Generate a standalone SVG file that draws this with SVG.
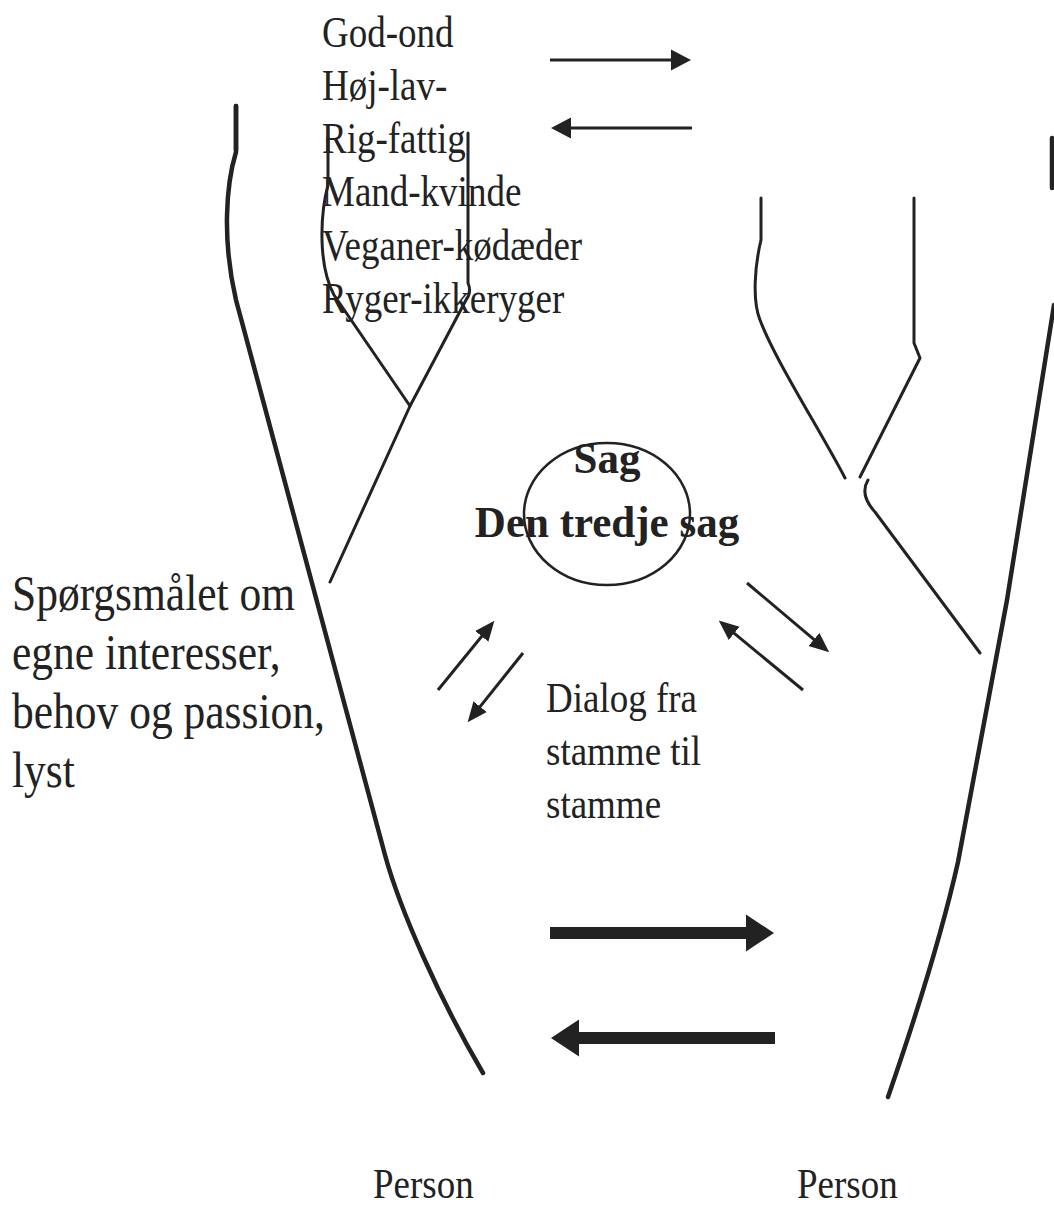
<svg xmlns="http://www.w3.org/2000/svg" width="1054" height="1206" viewBox="0 0 1054 1206">
<style>
  .t { font-family: "Liberation Serif", "Times New Roman", serif; fill: #222; }
  .b { font-weight: bold; }
  .trunk { fill: none; stroke: #222; stroke-width: 4.5; stroke-linecap: round; stroke-linejoin: round; }
  .branch { fill: none; stroke: #222; stroke-width: 3; stroke-linecap: round; stroke-linejoin: round; }
  .thin { fill: none; stroke: #222; stroke-width: 3; }
  .thick { fill: none; stroke: #222; stroke-width: 12; }
</style>
<defs>
  <marker id="ah" markerUnits="userSpaceOnUse" viewBox="0 -11 20 22" markerWidth="20" markerHeight="22" refX="1" refY="0" orient="auto">
    <path d="M0,-10.5 L20,0 L0,10.5 z" fill="#222"/>
  </marker>
  <marker id="ahm" markerUnits="userSpaceOnUse" viewBox="0 -9 20 18" markerWidth="20" markerHeight="18" refX="1" refY="0" orient="auto">
    <path d="M0,-8.5 L20,0 L0,8.5 z" fill="#222"/>
  </marker>
  <marker id="ahb" markerUnits="userSpaceOnUse" viewBox="0 -19 28 38" markerWidth="28" markerHeight="38" refX="1" refY="0" orient="auto">
    <path d="M0,-18.5 L28,0 L0,18.5 z" fill="#222"/>
  </marker>
</defs>

<g id="left-person">
  <path class="trunk" d="M236,106 L236,152 C226,185 222,240 236,300 L385,855 C400,910 440,1000 483,1073"/>
  <path class="trunk" d="M236,106 L236,150" stroke-width="6"/>
  <path class="branch" d="M328,138 L328,185 C320,215 318,265 334,295 L410,406"/>
  <path class="branch" d="M468,133 L468,283 Q472,292 466,300 L410,406 L330,582"/>
</g>

<g id="right-person">
  <path class="trunk" d="M1054,305 L1007,600 L958,862 C945,920 925,990 888,1097"/>
  <path class="trunk" d="M1052,138 L1052,188"/>
  <path class="branch" d="M761,198 L761,240 C755,265 752,300 760,320 C775,360 820,430 845,478"/>
  <path class="branch" d="M914,198 L914,343 L920,358 L860,477"/>
  <path class="branch" d="M868,480 C862,490 864,500 875,512 L980,653"/>
</g>

<g id="sag">
  <ellipse cx="607" cy="514" rx="83" ry="71" fill="none" stroke="#222" stroke-width="2.5"/>
  <text class="t b" font-size="43" text-anchor="middle" transform="translate(607,473) scale(1,1.05)">Sag</text>
  <text class="t b" font-size="43" text-anchor="middle" transform="translate(607,537) scale(1,1.05)">Den tredje sag</text>
</g>

<g id="labels-top">
  <text class="t" font-size="37" transform="translate(322,47) scale(1,1.2)">
    <tspan x="0" y="0">God-ond</tspan>
    <tspan x="0" dy="44.3">Høj-lav-</tspan>
    <tspan x="0" dy="44.3">Rig-fattig</tspan>
    <tspan x="0" dy="44.3">Mand-kvinde</tspan>
    <tspan x="0" dy="44.3">Veganer-kødæder</tspan>
    <tspan x="0" dy="44.3">Ryger-ikkeryger</tspan>
  </text>
</g>

<g id="label-interests">
  <text class="t" font-size="43.5" transform="translate(12,610) scale(1,1.15)">
    <tspan x="0" y="0">Spørgsmålet om</tspan>
    <tspan x="0" dy="51.3">egne interesser,</tspan>
    <tspan x="0" dy="51.3">behov og passion,</tspan>
    <tspan x="0" dy="51.3">lyst</tspan>
  </text>
</g>

<g id="label-dialog">
  <text class="t" font-size="37" transform="translate(546,712) scale(1,1.15)">
    <tspan x="0" y="0">Dialog fra</tspan>
    <tspan x="0" dy="46">stamme til</tspan>
    <tspan x="0" dy="46">stamme</tspan>
  </text>
</g>

<g id="person-left">
  <text class="t" font-size="37" transform="translate(373,1198) scale(1,1.15)">Person</text>
</g>
<g id="person-right">
  <text class="t" font-size="37" transform="translate(797,1198) scale(1,1.15)">Person</text>
</g>

<g id="connectors">
  <path class="thin" d="M550,60 L672,60" marker-end="url(#ah)"/>
  <path class="thin" d="M692,128 L570,128" marker-end="url(#ah)"/>
  <path class="thin" d="M438,690 L482.4,635.5" marker-end="url(#ahm)"/>
  <path class="thin" d="M523,653 L479.5,707.4" marker-end="url(#ahm)"/>
  <path class="thin" d="M747,583 L814.7,640.1" marker-end="url(#ahm)"/>
  <path class="thin" d="M803,690 L733.4,632.7" marker-end="url(#ahm)"/>
  <path class="thick" d="M550,933 L747,933" marker-end="url(#ahb)"/>
  <path class="thick" d="M775,1038 L578,1038" marker-end="url(#ahb)"/>
</g>
</svg>
